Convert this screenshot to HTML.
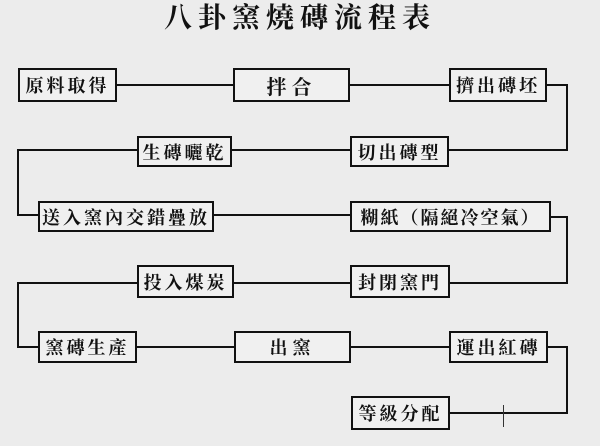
<!DOCTYPE html>
<html><head><meta charset="utf-8"><style>
html,body{margin:0;padding:0;}
body{width:600px;height:446px;background:#ececec;position:relative;overflow:hidden;font-family:"Liberation Serif","Noto Serif CJK SC",serif;color:#111;}
.t{position:absolute;left:150px;width:300px;top:3px;text-align:center;font-size:28px;font-weight:bold;letter-spacing:6px;line-height:32px;}
.b{position:absolute;border:2px solid #111;box-sizing:border-box;background:#f0f0f0;display:flex;align-items:center;justify-content:center;font-size:18px;letter-spacing:3px;font-weight:bold;white-space:nowrap;}
.h{position:absolute;height:2px;background:#111;}
.v{position:absolute;width:2px;background:#111;}
</style></head><body>
<div class="t">八卦窯燒磚流程表</div>

<div class="h" style="left:117px;width:116px;top:84px"></div>
<div class="h" style="left:350px;width:99px;top:84px"></div>
<div class="h" style="left:547px;width:21px;top:84px"></div>
<div class="v" style="left:566px;top:84px;height:67px"></div>
<div class="h" style="left:449px;width:119px;top:149px"></div>
<div class="h" style="left:232px;width:118px;top:149px"></div>
<div class="h" style="left:17px;width:120px;top:149px"></div>
<div class="v" style="left:17px;top:149px;height:67px"></div>
<div class="h" style="left:17px;width:21px;top:214px"></div>
<div class="h" style="left:214px;width:136px;top:214px"></div>
<div class="h" style="left:551px;width:17px;top:216px"></div>
<div class="v" style="left:566px;top:216px;height:68px"></div>
<div class="h" style="left:450px;width:118px;top:282px"></div>
<div class="h" style="left:234px;width:116px;top:282px"></div>
<div class="h" style="left:17px;width:120px;top:282px"></div>
<div class="v" style="left:17px;top:282px;height:66px"></div>
<div class="h" style="left:17px;width:21px;top:346px"></div>
<div class="h" style="left:137px;width:97px;top:346px"></div>
<div class="h" style="left:351px;width:98px;top:346px"></div>
<div class="h" style="left:548px;width:20px;top:346px"></div>
<div class="v" style="left:566px;top:346px;height:68px"></div>
<div class="h" style="left:450px;width:118px;top:412px"></div>
<div style="position:absolute;left:503px;top:405px;width:1px;height:22px;background:#333"></div>

<div class="b" style="left:18px;top:68px;width:99px;height:34px">原料取得</div>
<div class="b" style="left:233px;top:68px;width:117px;height:34px;font-size:20px;letter-spacing:5px">拌合</div>
<div class="b" style="left:449px;top:68px;width:98px;height:34px">擠出磚坯</div>
<div class="b" style="left:137px;top:136px;width:95px;height:31px">生磚曬乾</div>
<div class="b" style="left:350px;top:136px;width:99px;height:31px">切出磚型</div>
<div class="b" style="left:38px;top:201px;width:176px;height:31px">送入窯內交錯疊放</div>
<div class="b" style="left:350px;top:201px;width:201px;height:31px;letter-spacing:2px">糊紙（隔絕冷空氣）</div>
<div class="b" style="left:137px;top:265px;width:97px;height:33px">投入煤炭</div>
<div class="b" style="left:350px;top:265px;width:100px;height:33px">封閉窯門</div>
<div class="b" style="left:38px;top:331px;width:99px;height:32px">窯磚生產</div>
<div class="b" style="left:234px;top:331px;width:117px;height:32px;letter-spacing:5px">出窯</div>
<div class="b" style="left:449px;top:331px;width:99px;height:32px">運出紅磚</div>
<div class="b" style="left:351px;top:396px;width:99px;height:34px">等級分配</div>
</body></html>
